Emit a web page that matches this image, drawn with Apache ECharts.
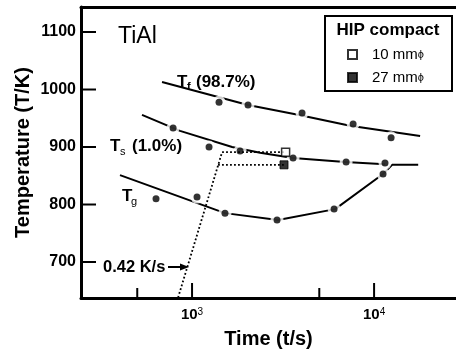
<!DOCTYPE html>
<html>
<head>
<meta charset="utf-8">
<script src="https://cdn.jsdelivr.net/npm/echarts@6/dist/echarts.min.js"></script>
<style>
  html, body { margin: 0; padding: 0; background: #fff; }
  #chart { width: 456px; height: 352px; }
</style>
</head>
<body>
<div id="chart"></div>
<script>
// values: time in s (log axis), temperature in K
const tfTime = [1407, 2030, 4020, 7670, 12400];
const tfTemp = [978, 973, 959, 940, 916];
const tfLineTime = [684, 2030, 3819, 7380, 17900];
const tfLineTemp = [1013, 973, 956, 937, 919];

const tsTime = [787, 1240, 1836, 3589, 7020, 11480];
const tsTemp = [933, 900, 893, 881, 874, 872];
const tsLineTime = [531, 859, 1660, 2365, 3589, 6935, 11480];
const tsLineTemp = [956, 928, 900, 890, 881, 874, 870];

const tgTime = [634, 1065, 1517, 2930, 6030, 11200];
const tgTemp = [810, 813, 785, 773, 792, 853];
const tgLineTime = [402, 1517, 2968, 6110, 11200, 12560, 17470];
const tgLineTemp = [851, 785, 773, 792, 853, 869, 869];

// cooling path (0.42 K/s) and the two HIP compacts
const coolTime = [838, 1462, 3266];
const coolTemp = [638, 891, 891];
const coolTime2 = [1389, 3200];
const coolTemp2 = [869, 869];
const hip10 = [[3266, 891]];
const hip27 = [[3200, 869]];

const yTicks = [700, 800, 900, 1000, 1100];
const xMajor = [1000, 10000];
const xMinor = [500, 5000];

const lg = Math.log10;
const pts = (ts, vs) => ts.map((t, i) => [lg(t), vs[i]]);
const FONT = '"Liberation Sans", Arial, sans-serif';

const allDots = pts(tfTime, tfTemp).concat(pts(tsTime, tsTemp), pts(tgTime, tgTemp));

const solid = { color: '#000', width: 2 };
const dotted = { color: '#000', width: 1.8, type: [1.8, 2.2] };

const xRange = { min: 2.39, max: 4.45 };
const yRange = { min: 637.4, max: 1143.5 };

// inward tick marks drawn through the axes' own coord mapping, on their own layer
const xTickSeries = (values, len) => ({
  type: 'custom', silent: true, zlevel: 1, z: 100,
  data: values.map(v => [lg(v)]),
  renderItem: (params, api) => {
    const p = api.coord([api.value(0), yRange.min]);
    return { type: 'line', shape: { x1: p[0], y1: p[1], x2: p[0], y2: p[1] - len }, style: { stroke: '#000', lineWidth: 2 } };
  }
});
const yTickSeries = (values, len) => ({
  type: 'custom', silent: true, zlevel: 1, z: 100,
  data: values.map(v => [xRange.min, v]),
  renderItem: (params, api) => {
    const p = api.coord([xRange.min, api.value(1)]);
    return { type: 'line', shape: { x1: p[0], y1: p[1], x2: p[0] + len, y2: p[1] }, style: { stroke: '#000', lineWidth: 2 } };
  }
});

const chart = echarts.init(document.getElementById('chart'));
chart.setOption({
  animation: false,
  backgroundColor: '#fff',
  grid: { left: 81, right: 0, top: 7, bottom: 54, outerBoundsMode: 'none' },
  xAxis: [
    {
      type: 'value', position: 'bottom', ...xRange,
      name: 'Time (t/s)', nameLocation: 'middle', nameGap: 31, nameMoveOverlap: false,
      nameTextStyle: { fontFamily: FONT, fontWeight: 'bold', fontSize: 20, color: '#000' },
      axisLine: { show: true, onZero: false, lineStyle: { color: '#000', width: 3 } },
      axisTick: { show: false },
      axisLabel: {
        customValues: xMajor.map(lg), margin: 9,
        formatter: v => '{b|10}{s|' + Math.round(v) + '}',
        rich: {
          b: { fontFamily: FONT, fontWeight: 'bold', fontSize: 15, color: '#000' },
          s: { fontFamily: FONT, fontSize: 10, color: '#000', verticalAlign: 'top' }
        }
      },
      splitLine: { show: false }
    },
    {
      type: 'value', position: 'top', ...xRange,
      axisLine: { show: true, onZero: false, lineStyle: { color: '#000', width: 3 } },
      axisTick: { show: false },
      axisLabel: { show: false },
      splitLine: { show: false }
    }
  ],
  yAxis: {
    type: 'value', position: 'left', ...yRange,
    name: 'Temperature (T/K)', nameLocation: 'middle', nameGap: 48, nameMoveOverlap: false,
    nameTextStyle: { fontFamily: FONT, fontWeight: 'bold', fontSize: 20, color: '#000' },
    axisLine: { show: true, onZero: false, lineStyle: { color: '#000', width: 3 } },
    axisTick: { show: false },
    axisLabel: {
      customValues: yTicks, margin: 5, formatter: v => String(v),
      fontFamily: FONT, fontWeight: 'bold', fontSize: 16, color: '#000'
    },
    splitLine: { show: false }
  },
  legend: {
    orient: 'vertical', left: 342, top: 42, itemGap: 8, z: 20,
    itemWidth: 9, itemHeight: 9,
    data: ['10 mmϕ', '27 mmϕ'],
    formatter: n => '{n|' + n.replace('ϕ', '') + '}{p|ϕ}',
    textStyle: {
      rich: {
        n: { fontFamily: FONT, fontSize: 15, color: '#000', padding: [0, 0, 0, 10] },
        p: { fontFamily: FONT, fontSize: 11, color: '#000' }
      }
    }
  },
  series: [
    { type: 'line', data: pts(tfLineTime, tfLineTemp), symbol: 'none', lineStyle: solid, z: 1, silent: true },
    { type: 'line', data: pts(tsLineTime, tsLineTemp), symbol: 'none', lineStyle: solid, z: 1, silent: true },
    { type: 'line', data: pts(tgLineTime, tgLineTemp), symbol: 'none', lineStyle: solid, z: 1, silent: true },
    { type: 'scatter', data: allDots, symbolSize: 13, itemStyle: { color: '#fff' }, z: 2, silent: true },
    { type: 'line', data: pts(coolTime, coolTemp), symbol: 'none', lineStyle: dotted, z: 3, silent: true },
    { type: 'line', data: pts(coolTime2, coolTemp2), symbol: 'none', lineStyle: dotted, z: 3, silent: true },
    { type: 'scatter', data: allDots, symbolSize: 7, itemStyle: { color: '#000' }, z: 4, silent: true },
    {
      name: '10 mmϕ', type: 'scatter', data: hip10.map(p => [lg(p[0]), p[1]]), symbol: 'rect', symbolSize: 8,
      itemStyle: { color: '#fff', borderColor: '#000', borderWidth: 1.5 }, z: 5
    },
    {
      name: '27 mmϕ', type: 'scatter', data: hip27.map(p => [lg(p[0]), p[1]]), symbol: 'rect', symbolSize: 8,
      itemStyle: { color: '#000', borderColor: '#000', borderWidth: 1 }, z: 5
    },
    xTickSeries(xMajor, 15),
    xTickSeries(xMinor, 10),
    yTickSeries(yTicks, 15)
  ],
  graphic: [
    { type: 'rect', shape: { x: 325, y: 16, width: 127, height: 75 }, style: { fill: 'rgba(0,0,0,0)', stroke: '#000', lineWidth: 2 }, z: 1 },
    { type: 'text', x: 388, y: 30, z: 11, style: { text: 'HIP compact', align: 'center', verticalAlign: 'middle', fontFamily: FONT, fontWeight: 'bold', fontSize: 17, fill: '#000' } },
    { type: 'text', x: 118, y: 37, z: 11, style: { text: 'TiAl', verticalAlign: 'middle', fontFamily: FONT, fontSize: 23, fill: '#000' } },
    // Tf (98.7%)
    { type: 'text', x: 177, y: 82, z: 11, style: { text: 'T', verticalAlign: 'middle', fontFamily: FONT, fontWeight: 'bold', fontSize: 17, fill: '#000' } },
    { type: 'text', x: 187, y: 87, z: 11, style: { text: 'f', verticalAlign: 'middle', fontFamily: FONT, fontWeight: 'bold', fontSize: 11, fill: '#000' } },
    { type: 'text', x: 196, y: 82, z: 11, style: { text: '(98.7%)', verticalAlign: 'middle', fontFamily: FONT, fontWeight: 'bold', fontSize: 17, fill: '#000' } },
    // Ts (1.0%)
    { type: 'text', x: 110, y: 146, z: 11, style: { text: 'T', verticalAlign: 'middle', fontFamily: FONT, fontWeight: 'bold', fontSize: 17, fill: '#000' } },
    { type: 'text', x: 120, y: 152, z: 11, style: { text: 's', verticalAlign: 'middle', fontFamily: FONT, fontSize: 11, fill: '#000' } },
    { type: 'text', x: 132, y: 146, z: 11, style: { text: '(1.0%)', verticalAlign: 'middle', fontFamily: FONT, fontWeight: 'bold', fontSize: 17, fill: '#000' } },
    // Tg
    { type: 'text', x: 122, y: 196, z: 11, style: { text: 'T', verticalAlign: 'middle', fontFamily: FONT, fontWeight: 'bold', fontSize: 17, fill: '#000' } },
    { type: 'text', x: 131, y: 202, z: 11, style: { text: 'g', verticalAlign: 'middle', fontFamily: FONT, fontSize: 11, fill: '#000' } },
    // 0.42 K/s with arrow
    { type: 'text', x: 103, y: 267, z: 11, style: { text: '0.42 K/s', verticalAlign: 'middle', fontFamily: FONT, fontWeight: 'bold', fontSize: 16.5, fill: '#000' } },
    { type: 'line', shape: { x1: 168, y1: 267, x2: 182, y2: 267 }, style: { stroke: '#000', lineWidth: 2 }, z: 11 },
    { type: 'polygon', shape: { points: [[180, 263.5], [189, 267], [180, 270.5]] }, style: { fill: '#000' }, z: 11 }
  ]
});
</script>
</body>
</html>
